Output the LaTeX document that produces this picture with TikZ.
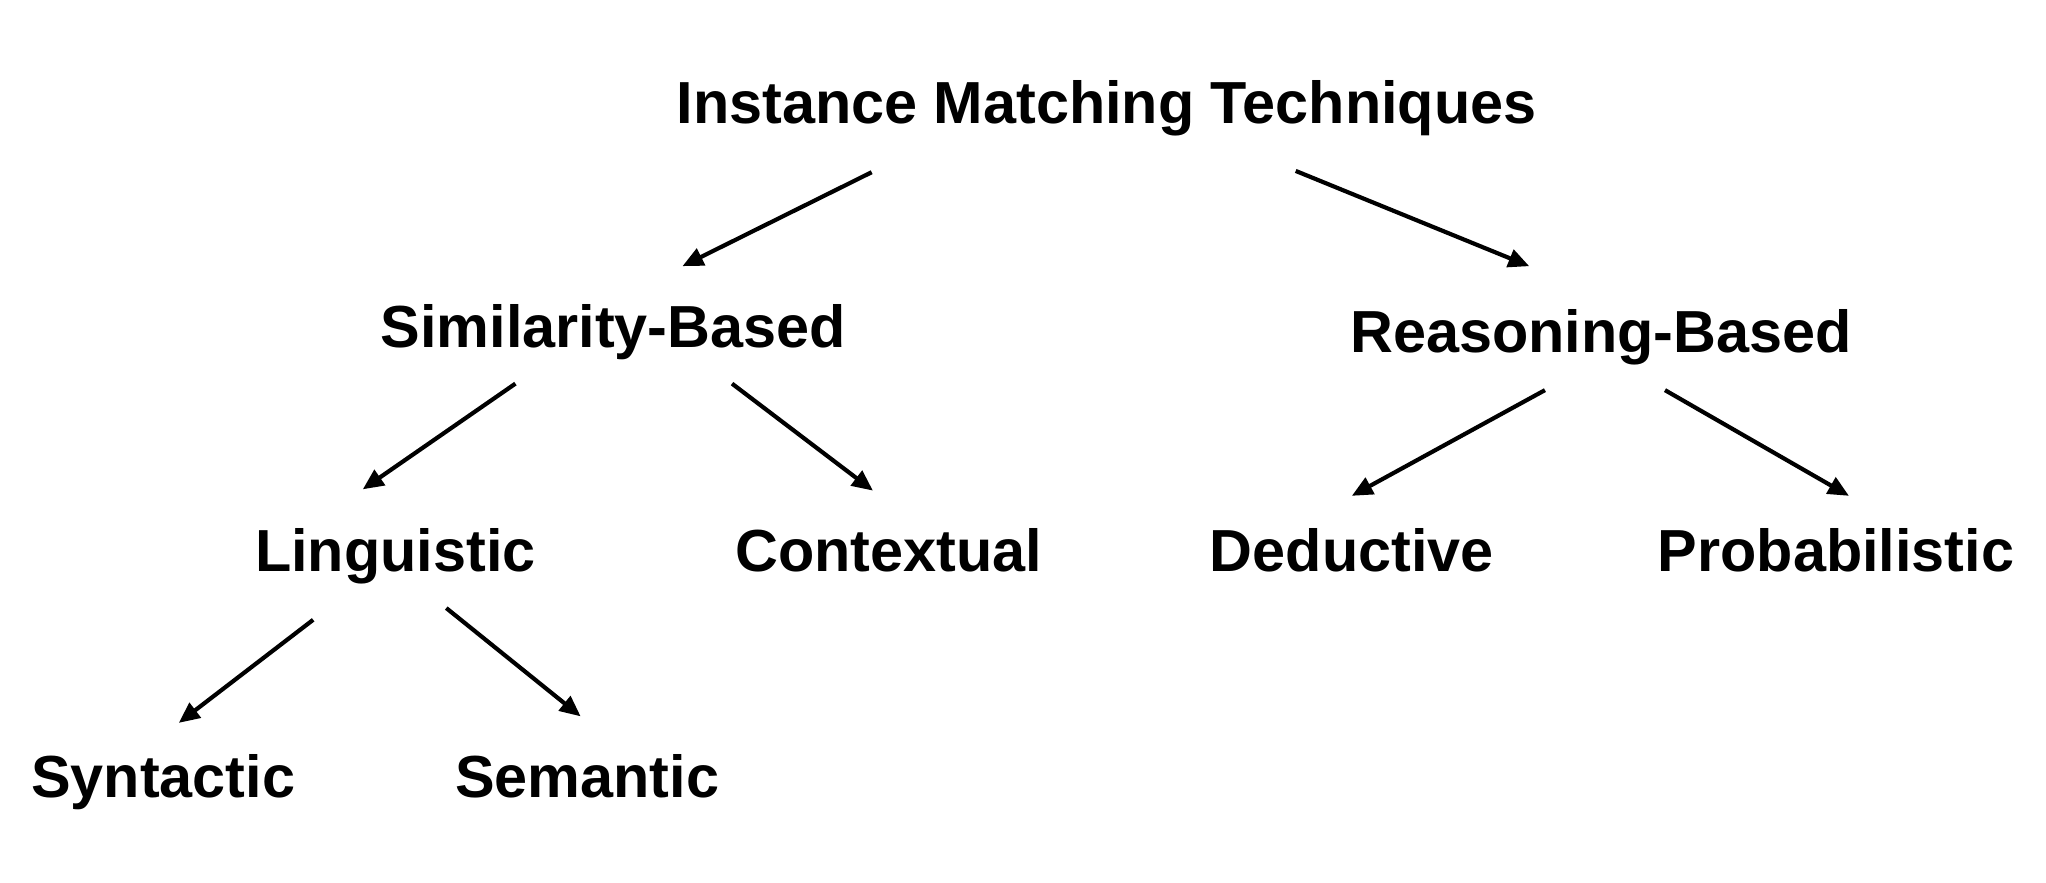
\documentclass[tikz,border=0pt]{standalone}
\usepackage{fontspec}
\setmainfont{Liberation Sans}
\usetikzlibrary{arrows.meta}
\begin{document}
\begin{tikzpicture}[x=1pt,y=-1pt,
  lbl/.style={font=\fontsize{45.5}{50}\selectfont\bfseries, inner sep=0pt, anchor=base},
  arr/.style={line width=3.2pt, -{Triangle[length=16pt,width=14pt]}}]
\useasboundingbox (0,0) rectangle (1568,676);
\node[lbl] (top) at (848,95) {Instance Matching Techniques};
\node[lbl] (sim) at (470,266) {Similarity-Based};
\node[lbl] (rea) at (1227,270) {Reasoning-Based};
\node[lbl] (lin) at (303,438) {Linguistic};
\node[lbl] (con) at (681,438) {Contextual};
\node[lbl] (ded) at (1036,438) {Deductive};
\node[lbl] (pro) at (1407,438) {Probabilistic};
\node[lbl] (syn) at (125,611) {Syntactic};
\node[lbl] (sem) at (450,611) {Semantic};
\draw[arr] ([shift={(-180,37)}]top.base) -- ([shift={(53,-62)}]sim.base);
\draw[arr] ([shift={(145,36)}]top.base) -- ([shift={(-55,-66)}]rea.base);
\draw[arr] ([shift={(-75,28)}]sim.base) -- ([shift={(-25,-63)}]lin.base);
\draw[arr] ([shift={(91,28)}]sim.base) -- ([shift={(-12,-62)}]con.base);
\draw[arr] ([shift={(-43,29)}]rea.base) -- ([shift={(0,-58)}]ded.base);
\draw[arr] ([shift={(49,29)}]rea.base) -- ([shift={(10,-58)}]pro.base);
\draw[arr] ([shift={(-63,37)}]lin.base) -- ([shift={(12,-57)}]syn.base);
\draw[arr] ([shift={(39,28)}]lin.base) -- ([shift={(-5,-62)}]sem.base);
\end{tikzpicture}
\end{document}
